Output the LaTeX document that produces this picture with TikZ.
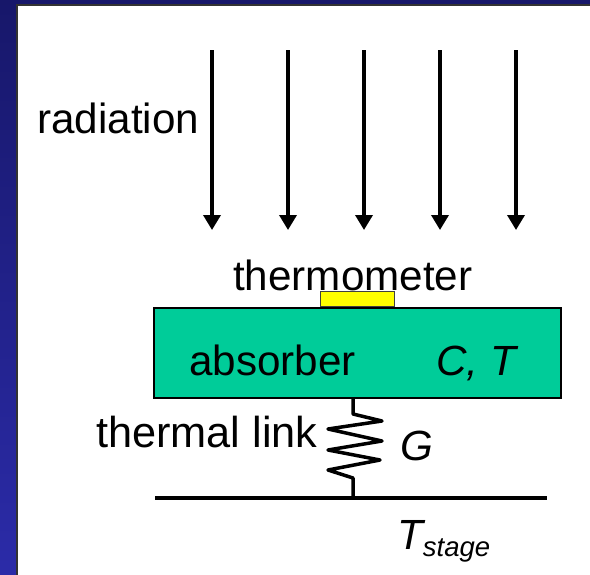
\documentclass[tikz,border=0pt]{standalone}
\usepackage{fontspec}
\setmainfont{Liberation Sans}
\usepackage{tikz}
\usetikzlibrary{arrows.meta}
\definecolor{slidetop}{HTML}{17176A}
\definecolor{slidebottom}{HTML}{2B2BA8}
\definecolor{absorbergreen}{HTML}{00CC99}
\definecolor{sensoryellow}{RGB}{255,255,0}
\tikzset{
label/.style={inner sep=0pt, anchor=base west, font=\fontsize{42.2}{44}\selectfont},
ray/.style={black, line width=3.5pt, -{Triangle[length=15pt,width=17pt]}},
wire/.style={black, line width=3.5pt, line join=round}
}
\begin{document}
\begin{tikzpicture}[x=1pt,y=-1pt]
\useasboundingbox (0,0) rectangle (590,574);

%slide background
\shade[top color=slidetop, bottom color=slidebottom] (0,0) rectangle (590,574);
\fill[white] (17,5) rectangle (591,576);
\draw[black!80, line width=1.5pt] (17,576)--(17,5)--(591,5);

%radiation arrows
\foreach \x/\name in {212/a,288/b,364/c,440/d,516/e}
{
\coordinate (ray\name top) at (\x,50);
\coordinate (ray\name tip) at (\x,230);
\draw[ray] (ray\name top)--(ray\name tip);
}

%absorber and thermometer
\node[draw=black, line width=2pt, fill=absorbergreen, minimum width=407.5pt, minimum height=90pt, inner sep=0pt, anchor=north west] (absorber) at (152.5,307) {};
\node[draw=black!75, line width=1.5pt, fill=sensoryellow, minimum width=74pt, minimum height=15pt, inner sep=0pt, anchor=south west] (thermometer) at (319.5,307) {};

%stage
\coordinate (stageleft) at (155,498);
\coordinate (stageright) at (547,498);
\draw[wire] (stageleft)--(stageright);

%thermal link
\coordinate (linktop) at (absorber.south -| 353,0);
\coordinate (linkbottom) at (353,498);
\draw[wire] (linktop)--(353,414)--(382,421)--(328,429)--(382,441)--(328,450)--(380,460)--(328,470)--(353,478)--(linkbottom);

%labels
\node[label] (radiationlabel) at (37,133) {radiation};
\node[label] (thermometerlabel) at (233,290) {thermometer};
\node[label] (absorberlabel) at (189,375) {absorber};
\node[label] (heatcap) at (436,375) {\itshape C, T};
\node[label, font=\fontsize{43.3}{44}\selectfont] (linklabel) at (96,447) {thermal link};
\node[label] (conductance) at (400,460) {\itshape G};
\node[label] (stagelabel) at (397,549) {\itshape T\raisebox{-7pt}{\fontsize{27.5}{28}\selectfont stage}};
\end{tikzpicture}
\end{document}
